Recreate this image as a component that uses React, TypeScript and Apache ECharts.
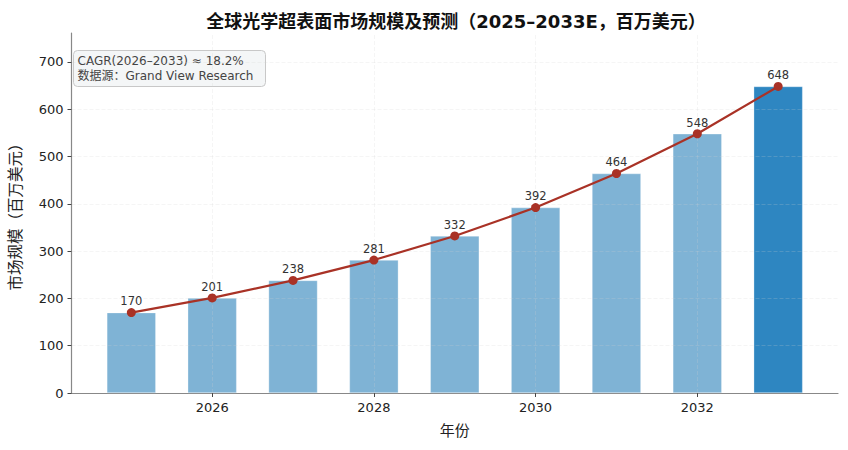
import React, { useEffect, useRef } from "react";
import * as echarts from "echarts";

const years = [2025, 2026, 2027, 2028, 2029, 2030, 2031, 2032, 2033];
const values = [170, 201, 238, 281, 332, 392, 464, 548, 648];
const xTicks = [2026, 2028, 2030, 2032];
const yTicks = [0, 100, 200, 300, 400, 500, 600, 700];
const titleText = "全球光学超表面市场规模及预测（2025–2033E，百万美元）";
const noteLines = ["CAGR(2026–2033) ≈ 18.2%", "数据源：Grand View Research"];

const FONT = "'DejaVu Sans', 'Noto Sans CJK SC', sans-serif";

export default function App() {
  const ref = useRef<HTMLDivElement>(null);
  useEffect(() => {
    document.body.style.margin = "0";
    const chart = echarts.init(ref.current!, null, { renderer: "svg" });
    const gridStyle = { color: "#d0d0d0", opacity: 0.22, width: 1, type: "dashed" as const };
    const lastIdx = years.length - 1;
    chart.setOption({
      animation: false,
      textStyle: { fontFamily: FONT },
      title: {
        text: titleText,
        left: 451,
        textAlign: "center",
        top: 7,
        textStyle: { fontSize: 18, fontWeight: "bold", color: "#111", fontFamily: FONT },
      },
      grid: { left: 70, right: 10, top: 33, bottom: 57 },
      xAxis: {
        type: "value",
        min: 2024.26,
        max: 2033.74,
        name: "年份",
        nameLocation: "middle",
        nameGap: 30,
        nameTextStyle: { fontSize: 15, color: "#222", fontFamily: FONT },
        axisLine: { show: true, lineStyle: { color: "#888", width: 1.2 } },
        axisTick: { show: true, customValues: xTicks, length: 4, lineStyle: { color: "#444" } },
        axisLabel: { customValues: xTicks, color: "#222", fontSize: 13, margin: 8, formatter: (v: number) => String(v) },
        splitLine: { show: false },
      },
      yAxis: {
        type: "value",
        min: 0,
        max: 761,
        name: "市场规模（百万美元）",
        nameLocation: "middle",
        nameGap: 48,
        nameRotate: 90,
        nameTextStyle: { fontSize: 15.5, color: "#222", fontFamily: FONT },
        axisLine: { show: true, lineStyle: { color: "#888", width: 1.2 } },
        axisTick: { show: true, customValues: yTicks, length: 4, lineStyle: { color: "#444" } },
        axisLabel: { customValues: yTicks, color: "#222", fontSize: 13, margin: 8 },
        splitLine: { show: false },
      },
      graphic: [
        {
          type: "group",
          left: 73,
          top: 50,
          children: [
            {
              type: "rect",
              shape: { x: 0, y: 0, width: 192, height: 36, r: 4 },
              style: { fill: "#f4f6f7", stroke: "#c8c8c8", lineWidth: 1 },
            },
            {
              type: "text",
              x: 4,
              y: 3,
              style: {
                text: noteLines.join("\n"),
                fontSize: 12,
                lineHeight: 15,
                fill: "#444",
                fontFamily: FONT,
              },
            },
          ],
        },
      ],
      series: [
        {
          type: "bar",
          barWidth: 49,
          z: 2,
          data: years.map((y, i) => ({
            value: [y, values[i]],
            itemStyle: {
              color: i === lastIdx ? "#2e86c1" : "#7fb3d5",
              borderColor: "rgba(255,255,255,0.5)",
              borderWidth: 0.6,
            },
          })),
          markLine: {
            silent: true,
            symbol: "none",
            z: 3,
            label: { show: false },
            lineStyle: gridStyle,
            data: [
              ...xTicks.map((v) => ({ xAxis: v })),
              ...yTicks.filter((v) => v > 0).map((v) => ({ yAxis: v })),
            ],
          },
        },
        {
          type: "line",
          z: 5,
          data: years.map((y, i) => [y, values[i]]),
          symbol: "circle",
          symbolSize: 9,
          lineStyle: { color: "#a93226", width: 2.2 },
          itemStyle: { color: "#a93226" },
          label: {
            show: true,
            position: "top",
            distance: 1,
            color: "#333",
            fontSize: 11.5,
            fontFamily: FONT,
            formatter: (p: any) => String(p.value[1]),
          },
        },
      ],
    });
    return () => chart.dispose();
  }, []);
  return <div ref={ref} style={{ width: 848, height: 450 }} />;
}
